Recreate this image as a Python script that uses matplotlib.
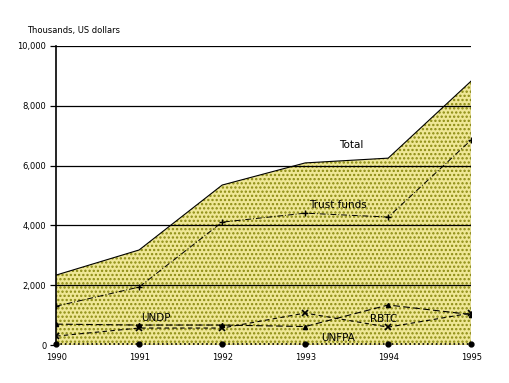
import matplotlib
matplotlib.use("Agg")
import matplotlib.pyplot as plt
import numpy as np

years = [1990, 1991, 1992, 1993, 1994, 1995]
total = [2340, 3180, 5350, 6090, 6250, 8830]
trust_funds = [1300, 1940, 4110, 4410, 4280, 6860]
undp = [700, 670, 670, 620, 1340, 1020]
rbtc = [300, 570, 570, 1070, 600, 1070]
unfpa = [20, 20, 20, 20, 20, 20]
yticks = [0, 2000, 4000, 6000, 8000, 10000]
ytick_labels = ["0", "2,000", "4,000", "6,000", "8,000", "10,000"]

plt.rcParams['hatch.color'] = '#8a8a10'
plt.rcParams['hatch.linewidth'] = 1.1
fig = plt.figure(figsize=(5.10, 3.83), dpi=100)
ax = fig.add_axes([0.110, 0.099, 0.814, 0.781])

ax.fill_between(years, 0, total, facecolor='#efe796', hatch='....', edgecolor='#8a8a10', linewidth=0, zorder=1)
ax.plot(years, total, color='black', lw=0.8, zorder=3)
ax.plot([years[-1], years[-1]], [0, total[-1]], color='black', lw=0.8, zorder=3)

for y in yticks[1:]:
    ax.axhline(y, color='black', lw=0.9, zorder=2)

ax.plot(years, trust_funds, color='black', lw=0.7, dashes=(6, 2, 1, 2), marker='+', ms=5, mew=1, zorder=4)
ax.plot(years, undp, color='black', lw=0.8, dashes=(6, 3), marker='^', ms=3, zorder=4)
ax.plot(years, rbtc, color='black', lw=0.8, dashes=(4, 3), marker='x', ms=4, mew=1.2, zorder=4)
ax.plot(years, unfpa, color='black', lw=1.2, ls=':', marker='o', ms=3.5, zorder=4, clip_on=False)

ax.set_xlim(1990, 1995)
ax.set_ylim(0, 10000)
ax.set_yticks(yticks)
ax.set_yticklabels(ytick_labels)
ax.set_xticks(years)
ax.set_xticklabels([str(y) for y in years])
ax.tick_params(axis='both', labelsize=6, length=4, width=0.9, direction='out', pad=3)
ax.tick_params(axis='x', length=0, pad=6)
for s in ['top', 'right']:
    ax.spines[s].set_visible(False)
ax.spines['left'].set_linewidth(1.2)
ax.spines['bottom'].set_visible(False)

fig.text(27/510, 1 - 30/383, "Thousands, US dollars", fontsize=6, va='center', ha='left')

ax.text(1993.55, 6700, "Total", fontsize=7.5, ha='center', va='center')
ax.text(1993.4, 4680, "Trust funds", fontsize=7.5, ha='center', va='center')
ax.text(1991.2, 920, "UNDP", fontsize=7.5, ha='center', va='center')
ax.text(1993.95, 880, "RBTC", fontsize=7.5, ha='center', va='center')
ax.text(1993.4, 230, "UNFPA", fontsize=7.5, ha='center', va='center')

fig.savefig("out.png", dpi=100)
